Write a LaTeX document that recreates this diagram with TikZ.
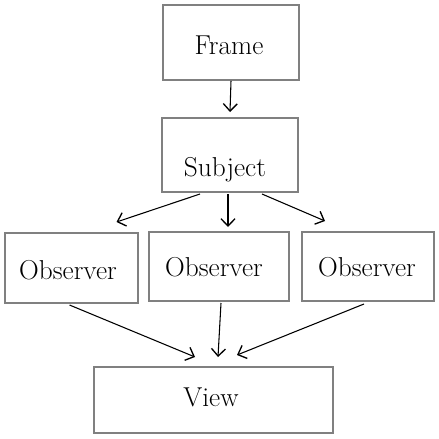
\documentclass[tikz,border=0pt]{standalone}
\usetikzlibrary{positioning}
\usetikzlibrary{calc}
\usetikzlibrary{arrows.meta}
\tikzset{
	box/.style={draw=black!50, line width=1.5pt},
	lbl/.style={font=\fontsize{20.5}{24}\selectfont},
	link/.style={-{Straight Barb[length=5.5pt,width=10.5pt,line width=1pt]}, line width=0.8pt}
}
\begin{document}
\begin{tikzpicture}[x=0.75pt,y=-0.75pt]
	\useasboundingbox (0,0) rectangle (439,439);
	\node[box, minimum width=102pt, minimum height=56pt] (frame) at (231,42.5){};%top
	\node[lbl] (framelbl) at (229,45){Frame};
	\node[box, minimum width=102pt, minimum height=55.5pt] (subject) at (230,155){};%subject
	\node[lbl] (subjectlbl) at (225,170){Subject};
	\node[box, minimum width=99.75pt, minimum height=52.5pt] (obsL) at (71.5,268){};%left
	\node[lbl] (obsLlbl) at (68,270){Observer};
	\node[box, minimum width=105pt, minimum height=51.75pt] (obsM) at (219,266.5){};%middle
	\node[lbl] (obsMlbl) at (214,267){Observer};
	\node[box, minimum width=99pt, minimum height=51.75pt] (obsR) at (368,266.5){};%right
	\node[lbl] (obsRlbl) at (367,267){Observer};
	\node[box, minimum width=179.25pt, minimum height=49.5pt] (view) at (213.5,400){};%bottom
	\node[lbl] (viewlbl) at (211,397){View};
	\draw[link] (frame.south) -- ($(subject.north)+(0,-5)$);
	\draw[link] ($(subject.south)+(-30,1)$) -- ($(obsL.north)+(45,-10)$);
	\draw[link] ($(subject.south)+(-2,1)$) -- ($(obsM.north)+(9,-4)$);
	\draw[link] ($(subject.south)+(32,1)$) -- ($(obsR.north)+(-43,-10)$);
	\draw[link] ($(obsL.south)+(-2,1)$) -- ($(view.north)+(-18.5,-9)$);
	\draw[link] ($(obsM.south)+(2,1)$) -- ($(view.north)+(4.5,-9)$);
	\draw[link] ($(obsR.south)+(-4,2)$) -- ($(view.north)+(23.5,-11)$);
\end{tikzpicture}
\end{document}
